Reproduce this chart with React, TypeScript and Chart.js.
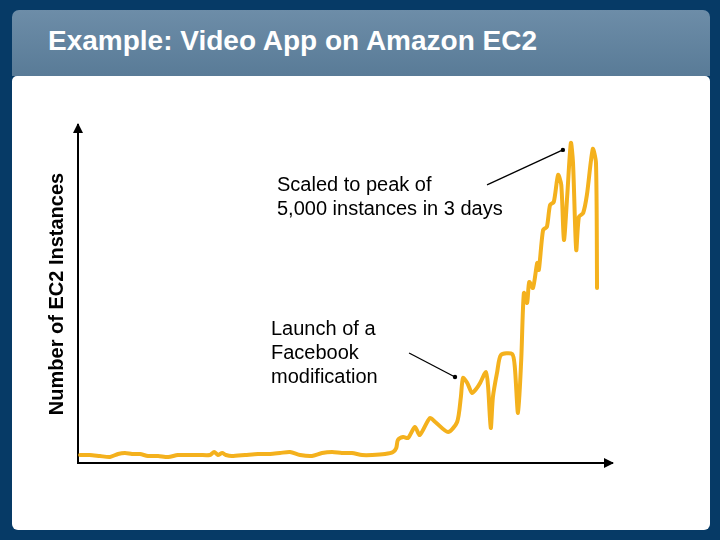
import React, { useEffect, useRef } from "react";
import { Chart, registerables } from "chart.js";

Chart.register(...registerables);

// time axis (relative units, 0..100) and number of EC2 instances
const timeValues: number[] = [
  0.4, 2.2, 4.1, 6.0, 7.5, 8.8, 10.1, 11.6, 13.1, 15.0, 16.9, 18.7, 21.0, 22.8, 24.7, 25.5, 26.2, 27.0, 27.7, 28.8,
  31.3, 33.7, 36.0, 37.8, 39.7, 41.6, 43.8, 45.7, 47.6, 49.4, 51.3, 53.2, 55.1, 57.5, 59.0,
  59.6, 59.9, 60.9, 61.8, 63.1, 64.0, 65.9, 66.9, 69.3, 71.0, 71.7, 72.1, 72.9, 73.8, 74.7, 75.3, 76.4, 76.8,
  77.3, 77.7, 78.5, 79.2, 81.3, 81.8, 82.4, 83.0, 83.5, 84.1, 84.5, 85.2, 86.0, 86.3, 87.1, 87.8, 88.4, 89.1,
  89.9, 90.5, 91.0, 91.6, 92.3, 92.7, 93.3, 93.8, 94.6, 95.3, 96.4, 97.0, 97.2,
];
const instanceCounts: number[] = [
  125, 125, 109, 94, 141, 156, 141, 141, 109, 109, 94, 125, 125, 125, 125, 172, 125, 156, 125, 109,
  125, 141, 141, 156, 172, 125, 109, 156, 172, 156, 156, 125, 125, 141, 172,
  234, 359, 406, 391, 563, 438, 703, 641, 484, 641, 1031, 1328, 1250, 1094, 1172, 1250, 1422, 1188,
  547, 1031, 1422, 1688, 1703, 1500, 781, 1609, 2656, 2500, 2828, 2734, 3125, 3016, 3641, 3688, 4031, 4078,
  4500, 4344, 3484, 4156, 5000, 4688, 3328, 3844, 3906, 4188, 4906, 4688, 2734,
];

const xMin = 0;
const xMax = 100;
const yMin = 0;
const yMax = 5280;

const titleText = "Example: Video App on Amazon EC2";
const yAxisTitle = "Number of EC2 Instances";
const peakNoteLines = ["Scaled to peak of", "5,000 instances in 3 days"];
const launchNoteLines = ["Launch of a", "Facebook", "modification"];

// leader lines: [fromX, fromY, toX, toY] in data units
const peakLeader: number[] = [76.6, 4344, 90.8, 4891];
const launchLeader: number[] = [62.0, 1719, 70.6, 1344];

const decorPlugin = {
  id: "decor",
  afterDatasetsDraw(chart: any) {
    const { ctx, chartArea, scales } = chart;
    const xs = scales.x;
    const ys = scales.y;
    ctx.save();
    ctx.fillStyle = "#000";
    // y arrowhead
    const ax = chartArea.left;
    const at = chartArea.top;
    ctx.beginPath();
    ctx.moveTo(ax, at - 2);
    ctx.lineTo(ax - 5, at + 8);
    ctx.lineTo(ax + 5, at + 8);
    ctx.closePath();
    ctx.fill();
    // x arrowhead
    const bx = chartArea.right;
    const by = chartArea.bottom;
    ctx.beginPath();
    ctx.moveTo(bx + 2, by);
    ctx.lineTo(bx - 8, by - 5);
    ctx.lineTo(bx - 8, by + 5);
    ctx.closePath();
    ctx.fill();
    // leader lines
    [peakLeader, launchLeader].forEach((l) => {
      const x1 = xs.getPixelForValue(l[0]);
      const y1 = ys.getPixelForValue(l[1]);
      const x2 = xs.getPixelForValue(l[2]);
      const y2 = ys.getPixelForValue(l[3]);
      ctx.strokeStyle = "#000";
      ctx.lineWidth = 1.3;
      ctx.beginPath();
      ctx.moveTo(x1, y1);
      ctx.lineTo(x2, y2);
      ctx.stroke();
      ctx.beginPath();
      ctx.arc(x2, y2, 2.2, 0, Math.PI * 2);
      ctx.fill();
    });
    ctx.restore();
  },
};

export default function App() {
  const canvasRef = useRef<HTMLCanvasElement | null>(null);

  useEffect(() => {
    if (!canvasRef.current) return;
    const points = timeValues.map((t, i) => ({ x: t, y: instanceCounts[i] }));
    const chart = new Chart(canvasRef.current, {
      type: "line",
      data: {
        datasets: [
          {
            data: points,
            borderColor: "#F4B11D",
            borderWidth: 4,
            pointRadius: 0,
            tension: 0.25,
            fill: false,
            borderCapStyle: "round",
            borderJoinStyle: "round",
          },
        ],
      },
      options: {
        animation: false,
        responsive: false,
        maintainAspectRatio: false,
        layout: { padding: { left: 47, top: 125, right: 108, bottom: 77 } },
        plugins: { legend: { display: false }, tooltip: { enabled: false }, title: { display: false } },
        scales: {
          x: {
            type: "linear",
            min: xMin,
            max: xMax,
            grid: { display: false, drawTicks: false },
            ticks: { display: false },
            border: { display: true, color: "#000", width: 2 },
          },
          y: {
            type: "linear",
            min: yMin,
            max: yMax,
            grid: { display: false, drawTicks: false },
            ticks: { display: false },
            border: { display: true, color: "#000", width: 2 },
            title: {
              display: true,
              text: yAxisTitle,
              color: "#000",
              font: { family: "'Liberation Sans', Arial, sans-serif", size: 20, weight: "bold", lineHeight: 1 },
              padding: { top: 0, bottom: 11 },
            },
          },
        },
      },
      plugins: [decorPlugin],
    });
    return () => chart.destroy();
  }, []);

  const noteStyle: React.CSSProperties = {
    position: "absolute",
    fontFamily: "'Liberation Sans', Arial, sans-serif",
    fontSize: 20,
    lineHeight: "24px",
    color: "#000",
    whiteSpace: "nowrap",
  };

  return (
    <div style={{ position: "fixed", left: 0, top: 0, width: 720, height: 540, background: "#063A66", overflow: "hidden" }}>
      <div
        style={{
          position: "absolute",
          left: 12,
          top: 10,
          width: 698,
          height: 66,
          borderRadius: "7px 7px 0 0",
          background: "linear-gradient(#6D8DA8, #597B97)",
        }}
      />
      <div
        style={{
          position: "absolute",
          left: 12,
          top: 76,
          width: 698,
          height: 454,
          borderRadius: "5px 5px 6px 6px",
          background: "#FFFFFF",
        }}
      />
      <div
        style={{
          position: "absolute",
          left: 48,
          top: 24,
          fontFamily: "'Liberation Sans', Arial, sans-serif",
          fontWeight: "bold",
          fontSize: 28,
          lineHeight: "34px",
          color: "#FFFFFF",
          whiteSpace: "nowrap",
        }}
      >
        {titleText}
      </div>
      <canvas ref={canvasRef} width={720} height={540} style={{ position: "absolute", left: 0, top: 0 }} />
      <div style={{ ...noteStyle, left: 277, top: 172 }}>
        {peakNoteLines.map((l) => (
          <div key={l}>{l}</div>
        ))}
      </div>
      <div style={{ ...noteStyle, left: 271, top: 316 }}>
        {launchNoteLines.map((l) => (
          <div key={l}>{l}</div>
        ))}
      </div>
    </div>
  );
}
